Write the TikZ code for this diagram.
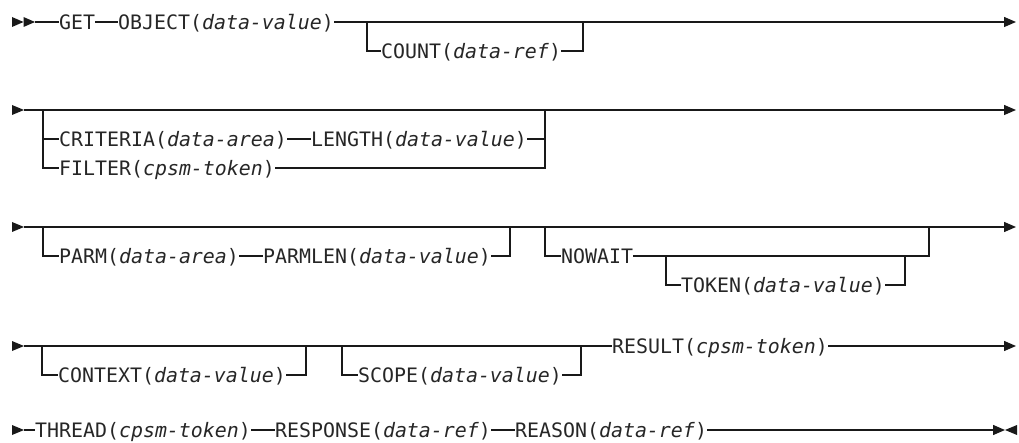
\documentclass[tikz,border=0pt]{standalone}
\usepackage{fontspec}
\setmonofont{DejaVu Sans Mono}
\usetikzlibrary{arrows.meta}
\begin{document}
\begin{tikzpicture}[x=1pt,y=-1pt,
  txt/.style={inner sep=0pt, anchor=west, text height=14.5pt, text depth=0pt,
    font=\ttfamily\fontsize{19.9}{22}\selectfont, text=black!85},
  ln/.style={line width=1.3pt, black!90},
  arr/.style={ln, -{Triangle[length=12pt,width=10pt]}},
  head/.style={fill=black!90},
]
\useasboundingbox (0,0) rectangle (1019,443);

% ---------- row 1 ----------
\fill[head] (12,17) -- (23.5,22) -- (12,27) -- cycle;
\fill[head] (23.5,17) -- (35,22) -- (23.5,27) -- cycle;
\coordinate (r1a) at (35,22);
\coordinate (r1e) at (1016,22);
\coordinate (c1l) at (367,22);
\coordinate (c1r) at (583,22);
\node[txt] (get) at (59,22) {GET};
\node[txt] (obj) at (118,22) {OBJECT(\textit{data-value})};
\node[txt] (count) at (381,51) {COUNT(\textit{data-ref})};
\draw[ln] (r1a) -- (get);
\draw[ln] (get) -- (obj);
\draw[arr] (obj) -- (r1e);
\draw[ln] (c1l) |- (count);
\draw[ln] (count) -| (c1r);

% ---------- row 2 ----------
\fill[head] (12,105) -- (24,110) -- (12,115) -- cycle;
\coordinate (r2a) at (24,110);
\coordinate (r2e) at (1016,110);
\coordinate (r2l) at (43,110);
\coordinate (r2r) at (545,110);
\node[txt] (crit) at (59,139) {CRITERIA(\textit{data-area})};
\node[txt] (len) at (311,139) {LENGTH(\textit{data-value})};
\node[txt] (filt) at (59,168) {FILTER(\textit{cpsm-token})};
\draw[arr] (r2a) -- (r2e);
\draw[ln] (r2l) |- (filt);
\draw[ln] (r2l) |- (crit);
\draw[ln] (crit) -- (len);
\draw[ln] (len) -| (r2r);
\draw[ln] (filt) -| (r2r);

% ---------- row 3 ----------
\fill[head] (12,222) -- (24,227) -- (12,232) -- cycle;
\coordinate (r3a) at (24,227);
\coordinate (r3e) at (1016,227);
\coordinate (p3l) at (43,227);
\coordinate (p3r) at (510,227);
\coordinate (n3l) at (545,227);
\coordinate (n3r) at (929,227);
\coordinate (t3l) at (666,256);
\coordinate (t3r) at (905,256);
\node[txt] (parm) at (59,256) {PARM(\textit{data-area})};
\node[txt] (parmlen) at (263,256) {PARMLEN(\textit{data-value})};
\node[txt] (nowait) at (561,256) {NOWAIT};
\node[txt] (token) at (681,285) {TOKEN(\textit{data-value})};
\draw[arr] (r3a) -- (r3e);
\draw[ln] (p3l) |- (parm);
\draw[ln] (parm) -- (parmlen);
\draw[ln] (parmlen) -| (p3r);
\draw[ln] (n3l) |- (nowait);
\draw[ln] (nowait) -| (n3r);
\draw[ln] (t3l) |- (token);
\draw[ln] (token) -| (t3r);

% ---------- row 4 ----------
\fill[head] (12,341) -- (24,346) -- (12,351) -- cycle;
\coordinate (r4a) at (24,346);
\coordinate (r4e) at (1016,346);
\coordinate (ctxl) at (42,346);
\coordinate (ctxr) at (306,346);
\coordinate (scl) at (342,346);
\coordinate (scr) at (581,346);
\node[txt] (ctx) at (58,375) {CONTEXT(\textit{data-value})};
\node[txt] (scope) at (358,375) {SCOPE(\textit{data-value})};
\node[txt] (result) at (612,346) {RESULT(\textit{cpsm-token})};
\draw[ln] (r4a) -- (result);
\draw[arr] (result) -- (r4e);
\draw[ln] (ctxl) |- (ctx);
\draw[ln] (ctx) -| (ctxr);
\draw[ln] (scl) |- (scope);
\draw[ln] (scope) -| (scr);

% ---------- row 5 ----------
\fill[head] (12,425) -- (24,430) -- (12,435) -- cycle;
\coordinate (r5a) at (24,430);
\coordinate (r5e) at (1005,430);
\node[txt] (thread) at (35,430) {THREAD(\textit{cpsm-token})};
\node[txt] (resp) at (275,430) {RESPONSE(\textit{data-ref})};
\node[txt] (reason) at (515,430) {REASON(\textit{data-ref})};
\draw[ln] (r5a) -- (thread);
\draw[ln] (thread) -- (resp);
\draw[ln] (resp) -- (reason);
\draw[arr] (reason) -- (r5e);
\fill[head] (1017,425) -- (1005,430) -- (1017,435) -- cycle;
\end{tikzpicture}
\end{document}
